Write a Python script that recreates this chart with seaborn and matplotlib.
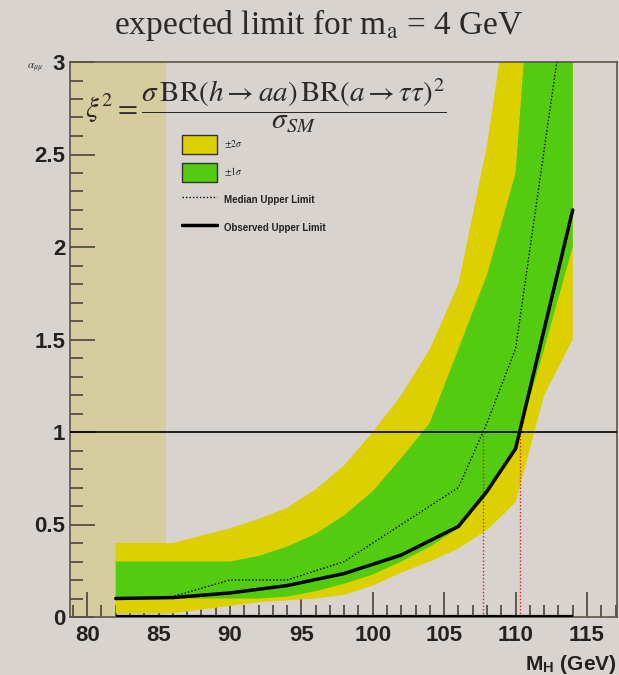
import numpy as np
import matplotlib
matplotlib.use("Agg")
import matplotlib.pyplot as plt
import seaborn as sns
from matplotlib.patches import Patch
from matplotlib.lines import Line2D
from matplotlib.ticker import MultipleLocator

# Higgs mass points (GeV)
band_mass = [82, 84, 86, 88, 90, 92, 94, 96, 98, 100, 102, 104, 106, 108, 110, 112, 114]
sigma2_low = [0.02, 0.02, 0.02, 0.04, 0.06, 0.08, 0.09, 0.10, 0.12, 0.17, 0.24, 0.30, 0.37, 0.47, 0.62, 1.20, 1.50]
sigma1_low = [0.10, 0.10, 0.10, 0.10, 0.10, 0.10, 0.11, 0.14, 0.18, 0.23, 0.30, 0.38, 0.48, 0.66, 0.92, 1.45, 2.00]
sigma1_up = [0.30, 0.30, 0.30, 0.30, 0.30, 0.33, 0.38, 0.45, 0.55, 0.68, 0.86, 1.05, 1.45, 1.85, 2.40, 4.50, 6.00]
sigma2_up = [0.40, 0.40, 0.40, 0.44, 0.48, 0.53, 0.59, 0.69, 0.82, 1.00, 1.20, 1.45, 1.80, 2.55, 3.60, 5.00, 6.00]

line_mass = [82, 86, 90, 94, 98, 102, 106, 108, 110, 114]
median_limit = [0.10, 0.11, 0.20, 0.20, 0.30, 0.50, 0.70, 1.05, 1.45, 3.60]
observed_limit = [0.10, 0.105, 0.13, 0.17, 0.235, 0.335, 0.49, 0.68, 0.91, 2.20]

excluded_lep = (78.8, 85.5)   # shaded region on the left

bg = "#d8d3cf"
yellow = "#ddd000"
green = "#52cb10"
tan = "#d5cd9e"

sns.set_style("ticks")
plt.rcParams["mathtext.fontset"] = "stix"
plt.rcParams["font.family"] = ["Liberation Sans", "DejaVu Sans"]

fig = plt.figure(figsize=(6.19, 6.75), dpi=100, facecolor=bg)
ax = fig.add_axes([70 / 619, 58 / 675, 547 / 619, 555 / 675])
ax.set_facecolor(bg)

ax.axvspan(*excluded_lep, color=tan, lw=0, zorder=0)

ax.fill_between(band_mass, sigma2_low, sigma2_up, color=yellow, lw=0, zorder=1)
ax.fill_between(band_mass, sigma1_low, sigma1_up, color=green, lw=0, zorder=2)

sns.lineplot(x=line_mass, y=median_limit, ax=ax, color="black", lw=1.0,
             linestyle=(0, (1, 1.5)), zorder=4)
sns.lineplot(x=line_mass, y=observed_limit, ax=ax, color="black", lw=2.5, zorder=5)

ax.axhline(1, color="black", lw=1.2, zorder=3)
ax.hlines(0, band_mass[0], band_mass[-1], color="black", lw=3, zorder=6)

# where the limits cross 1
med_cross = np.interp(1, median_limit, line_mass)
obs_cross = np.interp(1, observed_limit, line_mass)
ax.vlines([med_cross, obs_cross], 0, 1, color="#e0201a", lw=1.0, linestyle=(0, (1, 1.5)), zorder=3)

ax.set_xlim(78.8, 117.1)
ax.set_ylim(0, 3)
ax.xaxis.set_major_locator(MultipleLocator(5))
ax.xaxis.set_minor_locator(MultipleLocator(1))
ax.yaxis.set_major_locator(MultipleLocator(0.5))
ax.yaxis.set_minor_locator(MultipleLocator(0.1))
ax.tick_params(which="both", direction="in", color="#4a4436", width=1.2)
ax.tick_params(which="major", length=18, labelsize=16)
ax.tick_params(which="minor", length=9)
ax.tick_params(axis="x", which="major", pad=6)
ax.set_yticks([0, 0.5, 1, 1.5, 2, 2.5, 3])
ax.set_yticklabels(["0", "0.5", "1", "1.5", "2", "2.5", "3"], fontweight="bold", color="#222222")
ax.set_xticks([80, 85, 90, 95, 100, 105, 110, 115])
ax.set_xticklabels(["80", "85", "90", "95", "100", "105", "110", "115"], fontweight="bold", color="#222222")
for sp in ax.spines.values():
    sp.set_color("#5a5548")
    sp.set_linewidth(1.2)

ax.set_xlabel(r"M$_\mathregular{H}$ (GeV)", fontsize=15, fontweight="bold", color="#222222")
ax.xaxis.set_label_coords(1.0, -0.065)
ax.xaxis.label.set_horizontalalignment("right")
fig.text(35 / 619, 1 - 68 / 675, r"$\alpha_{\mu\mu}$", fontsize=8, color="#333333",
         ha="center", va="center")

fig.text(0.515, 1 - 25 / 675, r"expected limit for m$_\mathrm{a}$ = 4 GeV",
         family="Liberation Serif", fontsize=24, ha="center", va="center", color="#2a2a2a")

fig.text(85 / 619, 1 - 106 / 675,
         r"$\xi^2 = \dfrac{\sigma\,\mathrm{BR}(h\rightarrow aa)\,\mathrm{BR}(a\rightarrow\tau\tau)^2}{\sigma_{SM}}$",
         fontsize=21, ha="left", va="center", color="#2a2a2a")

handles = [
    Patch(facecolor=yellow, edgecolor="#333333", lw=1.0),
    Patch(facecolor=green, edgecolor="#333333", lw=1.0),
    Line2D([], [], color="black", lw=1.0, linestyle=(0, (1, 1.5))),
    Line2D([], [], color="black", lw=2.5),
]
labels = [r"$\pm2\sigma$", r"$\pm1\sigma$", "Median Upper Limit", "Observed Upper Limit"]
leg = ax.legend(handles, labels, loc="upper left", bbox_to_anchor=(182 / 619, 1 - 135 / 675),
                bbox_transform=fig.transFigure, frameon=False, borderpad=0, borderaxespad=0,
                fontsize=7, handlelength=3.6, handleheight=2.6, labelspacing=0.95,
                handletextpad=0.7)
for t in leg.get_texts():
    t.set_fontweight("bold")
    t.set_color("#222222")

fig.savefig("out.png", dpi=100, facecolor=bg)
